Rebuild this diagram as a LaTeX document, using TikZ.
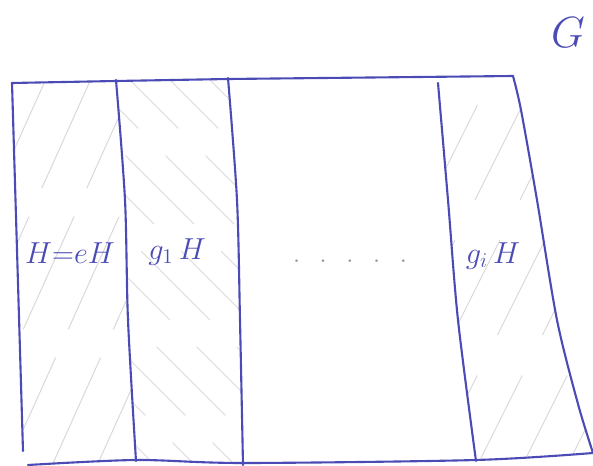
\documentclass[tikz,border=0pt]{standalone}
\usetikzlibrary{calc}
\definecolor{cink}{HTML}{4B4BB6}
\definecolor{chatch}{HTML}{DADADA}
\tikzset{
  every picture/.style={line width=1.1pt},
  edge/.style={draw=cink, line width=1.2pt, line cap=round},
  hatch/.style={draw=chatch, line width=0.6pt, line cap=round, dash pattern=on 70pt off 18pt},
  coset/.style={text=cink, font=\fontsize{18}{22}\selectfont, inner sep=1pt},
  group/.style={text=cink, font=\fontsize{36}{42}\selectfont, inner sep=1pt},
  gap/.style={text=black!40, font=\Large},
}
\begin{document}
\begin{tikzpicture}[x=0.02cm, y=-0.02cm]
  \useasboundingbox (0,0) rectangle (593,466);

  % hatching of the three marked cosets
  \begin{scope}
    \clip plot[smooth] coordinates {(12,83) (17,250) (23,451)} -- (28,465)
      -- plot[smooth] coordinates {(136,461) (128,320) (125,200) (116,80)} -- cycle;
    \foreach \s in {-220,-175,...,140}
      \draw[hatch] (\s,470) -- ++(180,-400);
  \end{scope}
  \begin{scope}
    \clip plot[smooth] coordinates {(116,80) (125,200) (128,320) (136,461)}
      -- plot[smooth] coordinates {(243,464) (240,320) (237,200) (228,78)} -- cycle;
    \foreach \s in {-250,-210,...,240}
      \draw[hatch, dash pattern=on 55pt off 22pt] (\s,60) -- ++(420,420);
  \end{scope}
  \begin{scope}
    \clip plot[smooth] coordinates {(438,83) (448,200) (458,320) (476,460)}
      -- plot[smooth] coordinates {(593,453) (578,404) (557,320) (537,200) (521,110) (513,76)} -- cycle;
    \foreach \s in {250,295,...,600}
      \draw[hatch, dash pattern=on 60pt off 26pt] (\s,470) -- ++(200,-400);
  \end{scope}

  % outline of G
  \draw[edge] (12,83) -- (116,81) -- (228,79) -- (513,76);
  \draw[edge] plot[smooth] coordinates {(12,83) (17,250) (23,451)};
  \draw[edge] plot[smooth] coordinates {(28,465) (136,460) (243,463) (476,460) (593,453)};
  \draw[edge] plot[smooth] coordinates {(513,76) (521,110) (537,200) (557,320) (578,404) (593,453)};

  % cuts between the cosets
  \draw[edge] plot[smooth] coordinates {(116,80) (125,200) (128,320) (136,461)};
  \draw[edge] plot[smooth] coordinates {(228,78) (237,200) (240,320) (243,465)};
  \draw[edge] plot[smooth] coordinates {(438,83) (448,200) (458,320) (476,461)};

  \node[group] (G) at (568,33) {$G$};
  \node[coset] (eH) at (70,253) {$H{=}eH$};
  \node[coset] (g1H) at (177,252) {$g_1\,H$};
  \node[gap] (dots) at (350,262) {$\cdot\;\;\cdot\;\;\cdot\;\;\cdot\;\;\cdot$};
  \node[coset] (giH) at (493,256) {$g_i\,H$};
\end{tikzpicture}
\end{document}
